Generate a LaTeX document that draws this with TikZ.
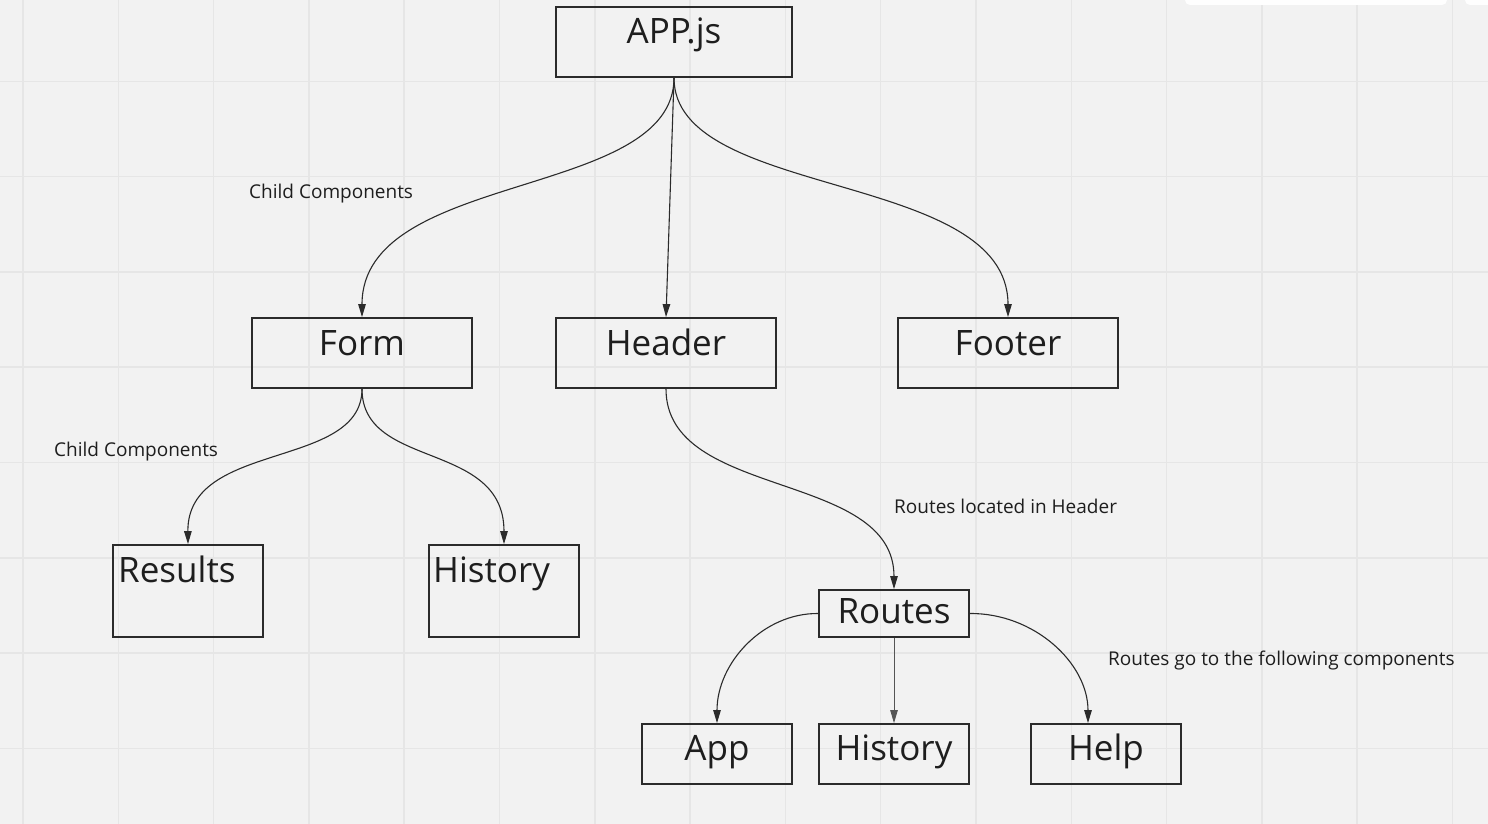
\documentclass[tikz,border=0pt]{standalone}
\usepackage{fontspec}
\setmainfont{Open Sans}
\usetikzlibrary{arrows.meta}
\definecolor{bg}{HTML}{F2F2F2}
\definecolor{gridc}{HTML}{E6E6E6}
\definecolor{ink}{HTML}{2B2B2B}
\definecolor{txt}{HTML}{1E1E1E}
\tikzset{
  box/.style={draw=ink, line width=1.8pt, inner sep=0pt, minimum width=#1},
  big/.style={text=txt, font=\fontsize{35}{42}\selectfont, inner sep=0pt},
  small/.style={text=txt, font=\fontsize{19}{23}\selectfont, inner sep=0pt, anchor=base west},
  conn/.style={draw=ink, line width=1.1pt, -{Triangle[length=13pt,width=7.5pt]}},
}
\begin{document}
\begin{tikzpicture}[x=1pt,y=-1pt]
\useasboundingbox (0,0) rectangle (1488,824);
\fill[bg] (0,0) rectangle (1488,824);
% grid
\foreach \i in {0,...,15} {
  \draw[gridc, line width=1.5pt] ({23+95.3*\i},0) -- ({23+95.3*\i},824);
}
\foreach \j in {1,...,9} {
  \draw[gridc, line width=1.5pt] (0,{-14+95.3*\j}) -- (1488,{-14+95.3*\j});
}
% top-right overlays
\fill[white!97!bg, rounded corners=5pt] (1185,-20) rectangle (1447,5);
\fill[white!97!bg, rounded corners=5pt] (1465,-20) rectangle (1500,5);

% boxes
\node[box=236pt, minimum height=70pt] (app) at (674,42) {};
\node[big, anchor=base] (appT) at (674,44) {APP.js};
\node[box=220pt, minimum height=70pt] (form) at (362,353) {};
\node[big, anchor=base] (formT) at (362,355) {Form};
\node[box=220pt, minimum height=70pt] (header) at (666,353) {};
\node[big, anchor=base] (headerT) at (666,355) {Header};
\node[box=220pt, minimum height=70pt] (footer) at (1008,353) {};
\node[big, anchor=base] (footerT) at (1008,355) {Footer};
\node[box=150pt, minimum height=92pt] (results) at (188,591) {};
\node[big, anchor=base west] (resultsT) at (118,582) {Results};
\node[box=150pt, minimum height=92pt] (history) at (504,591) {};
\node[big, anchor=base west] (historyT) at (433,582) {History};
\node[box=150pt, minimum height=47pt] (routes) at (894,613.5) {};
\node[big, anchor=base] (routesT) at (894,623) {Routes};
\node[box=150pt, minimum height=60pt] (appc) at (717,754) {};
\node[big, anchor=base] (appcT) at (717,760) {App};
\node[box=150pt, minimum height=60pt] (hist2) at (894,754) {};
\node[big, anchor=base] (hist2T) at (894,760) {History};
\node[box=150pt, minimum height=60pt] (help) at (1106,754) {};
\node[big, anchor=base] (helpT) at (1106,760) {Help};

% labels
\node[small] (l1) at (249,198) {Child Components};
\node[small] (l2) at (54,456) {Child Components};
\node[small] (l3) at (894,513) {Routes located in Header};
\node[small] (l4) at (1108,665) {Routes go to the following components};

% connectors
\draw[conn] (app.south) .. controls (674,200) and (362,170) .. (form.north);
\draw[conn] (app.south) -- (header.north);
\draw[conn] (app.south) .. controls (674,200) and (1008,170) .. (footer.north);
\draw[conn] (form.south) .. controls (362,470) and (187,440) .. (results.north);
\draw[conn] (form.south) .. controls (362,470) and (504,440) .. (history.north);
\draw[conn] (header.south) .. controls (666,500) and (894,470) .. (routes.north);
\draw[conn] (routes.west) .. controls (763,613) and (717,663) .. (appc.north);
\draw[conn, line width=0.9pt, draw=ink!80] (routes.south) -- (hist2.north);
\coordinate (helpin) at ([xshift=-18pt]help.north);
\draw[conn] (routes.east) .. controls (1034,613) and (1088,663) .. (helpin);
\end{tikzpicture}
\end{document}
